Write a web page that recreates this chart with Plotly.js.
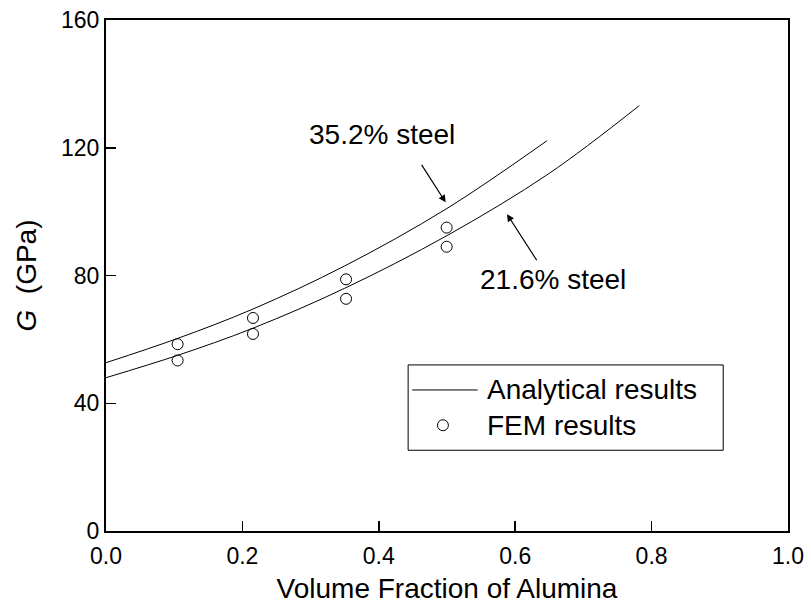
<!DOCTYPE html>
<html>
<head>
<meta charset="utf-8">
<script src="https://cdn.plot.ly/plotly-3.0.1.min.js"></script>
<style>html,body{margin:0;padding:0;background:#fff;}#chart{width:811px;height:610px;}</style>
</head>
<body>
<div id="chart"></div>
<script>
// Analytical curves
var steel352X = [0, 0.105, 0.2155, 0.35, 0.5, 0.6466];
var steel352Y = [52.7, 60.3, 69.5, 83.0, 101.0, 122.2];
var steel216X = [0, 0.105, 0.2155, 0.35, 0.5, 0.65, 0.782];
var steel216Y = [48.0, 55.0, 63.5, 76.0, 92.5, 112.0, 133.2];
// FEM results
var femX = [0.105, 0.2155, 0.352, 0.4995];
var fem352Y = [58.5, 66.7, 78.8, 95.0];
var fem216Y = [53.4, 61.7, 72.7, 89.0];
// Labels
var xTickVals = [0, 0.2, 0.4, 0.6, 0.8, 1.0];
var xTickText = ['0.0', '0.2', '0.4', '0.6', '0.8', '1.0'];
var yTickVals = [0, 40, 80, 120, 160];
var legendNames = ['Analytical results', 'FEM results'];

var FONT = 'Liberation Sans, Arial, sans-serif';
var lineStyle = {color: '#000', width: 1, shape: 'spline', smoothing: 1};
var markerStyle = {symbol: 'circle-open', size: 11, color: '#000', line: {color: '#000', width: 1}};

var traces = [
  {x: steel352X, y: steel352Y, mode: 'lines', line: lineStyle, showlegend: false, hoverinfo: 'skip'},
  {x: steel216X, y: steel216Y, mode: 'lines', line: lineStyle, showlegend: false, hoverinfo: 'skip'},
  {x: femX, y: fem352Y, mode: 'markers', marker: markerStyle, showlegend: false},
  {x: femX, y: fem216Y, mode: 'markers', marker: markerStyle, showlegend: false}
];

// manual legend placement (paper coords)
var lgX0 = 0.443, lgX1 = 0.905, lgY0 = 0.158, lgY1 = 0.325;
var layout = {
  width: 811, height: 610,
  margin: {l: 106, r: 23, t: 20, b: 79},
  paper_bgcolor: '#fff', plot_bgcolor: '#fff',
  font: {family: FONT, color: '#000', size: 23},
  showlegend: false,
  xaxis: {
    range: [0, 1.0], tickvals: xTickVals, ticktext: xTickText,
    ticks: 'inside', ticklen: 10, tickwidth: 1.5, tickcolor: '#000',
    showline: true, linecolor: '#000', linewidth: 2, mirror: true,
    showgrid: false, zeroline: false, ticklabelstandoff: 3,
    tickfont: {size: 23, family: FONT},
    title: {text: 'Volume Fraction of Alumina', font: {size: 28, family: FONT}, standoff: 11}
  },
  yaxis: {
    range: [0, 160], tickvals: yTickVals,
    ticks: 'inside', ticklen: 10, tickwidth: 1.5, tickcolor: '#000',
    showline: true, linecolor: '#000', linewidth: 2, mirror: true,
    showgrid: false, zeroline: false,
    tickfont: {size: 23, family: FONT},
    title: {text: '<i>G</i>  (GPa)', font: {size: 28, family: FONT}, standoff: 16}
  },
  shapes: [
    {type: 'rect', xref: 'paper', yref: 'paper', x0: lgX0, x1: lgX1, y0: lgY0, y1: lgY1,
     line: {color: '#000', width: 1}, fillcolor: 'rgba(0,0,0,0)'},
    {type: 'line', xref: 'paper', yref: 'paper', x0: 0.449, x1: 0.545, y0: 0.276, y1: 0.276,
     line: {color: '#000', width: 1}},
    {type: 'circle', xref: 'paper', yref: 'paper', xsizemode: 'pixel', ysizemode: 'pixel',
     xanchor: 0.494, yanchor: 0.207, x0: -5.5, x1: 5.5, y0: -5.5, y1: 5.5,
     line: {color: '#000', width: 1}}
  ],
  annotations: [
    {xref: 'paper', yref: 'paper', x: 0.556, y: 0.276, xanchor: 'left', yanchor: 'middle',
     text: legendNames[0], showarrow: false, font: {size: 28, family: FONT}},
    {xref: 'paper', yref: 'paper', x: 0.556, y: 0.207, xanchor: 'left', yanchor: 'middle',
     text: legendNames[1], showarrow: false, font: {size: 28, family: FONT}},
    {x: 0.405, y: 124.0, text: '35.2% steel', showarrow: false, font: {size: 28, family: FONT}},
    {x: 0.655, y: 78.6, text: '21.6% steel', showarrow: false, font: {size: 28, family: FONT}},
    {x: 0.498, y: 102.9, ax: 0.4614, ay: 115.1, axref: 'x', ayref: 'y', text: '',
     showarrow: true, arrowhead: 2, arrowsize: 1.2, arrowwidth: 1.2, arrowcolor: '#000'},
    {x: 0.588, y: 99.2, ax: 0.633, ay: 84.3, axref: 'x', ayref: 'y', text: '',
     showarrow: true, arrowhead: 2, arrowsize: 1.2, arrowwidth: 1.2, arrowcolor: '#000'}
  ]
};

Plotly.newPlot('chart', traces, layout, {displayModeBar: false, staticPlot: true});
</script>
</body>
</html>
